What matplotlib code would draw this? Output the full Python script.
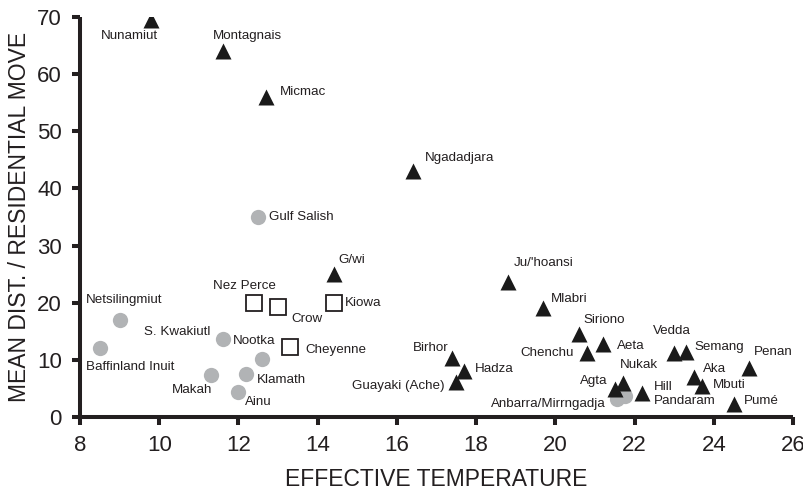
import matplotlib.pyplot as plt

plt.rcParams['font.family'] = ['Liberation Sans', 'DejaVu Sans']

# mobile foragers (triangles)
tri_names = ['Nunamiut', 'Montagnais', 'Micmac', 'Ngadadjara', 'G/wi', "Ju/'hoansi",
             'Mlabri', 'Siriono', 'Aeta', 'Chenchu', 'Vedda', 'Semang', 'Penan',
             'Birhor', 'Hadza', 'Guayaki (Ache)', 'Agta', 'Nukak', 'Hill\nPandaram',
             'Aka', 'Mbuti', 'Pumé']
tri_x = [9.8, 11.6, 12.7, 16.4, 14.4, 18.8, 19.7, 20.6, 21.2, 20.8, 23.0, 23.3, 24.9,
         17.4, 17.7, 17.5, 21.5, 21.7, 22.2, 23.5, 23.7, 24.5]
tri_y = [69.5, 64.0, 56.0, 43.0, 25.0, 23.7, 19.0, 14.5, 12.8, 11.2, 11.2, 11.3, 8.6,
         10.4, 8.0, 6.1, 4.9, 5.9, 4.2, 7.0, 5.4, 2.3]

# sedentary / complex (grey circles)
circ_names = ['Gulf Salish', 'Netsilingmiut', 'Baffinland Inuit', 'S. Kwakiutl', 'Nootka',
              'Klamath', 'Makah', 'Ainu', 'Anbarra/Mirrngadja', '']
circ_x = [12.5, 9.0, 8.5, 11.6, 12.6, 12.2, 11.3, 12.0, 21.55, 21.75]
circ_y = [35.0, 16.9, 12.1, 13.7, 10.1, 7.6, 7.3, 4.4, 3.2, 3.6]

# equestrian (open squares)
sq_names = ['Nez Perce', 'Crow', 'Kiowa', 'Cheyenne']
sq_x = [12.4, 13.0, 14.4, 13.3]
sq_y = [20.0, 19.3, 20.0, 12.2]

# label offsets in pixels (dx, dy, ha)
tri_off = [(-22, -16, 'center'), (25, 15, 'center'), (14, 5, 'left'), (12, 13, 'left'),
           (5, 14, 'left'), (6, 19, 'left'), (7, 9, 'left'), (4, 14, 'left'),
           (14, -2, 'left'), (-13, 0, 'right'), (-2, 22, 'center'), (8, 5, 'left'),
           (4, 16, 'left'), (-4, 10, 'right'), (11, 2, 'left'), (-12, -4, 'right'),
           (-7, 8, 'right'), (16, 18, 'center'), (11, -1, 'left'), (9, 8, 'left'),
           (11, 1, 'left'), (10, 3, 'left')]
circ_off = [(11, 0, 'left'), (-34, 20, 'left'), (-14, -19, 'left'), (-12, 7, 'right'),
            (-29, 18, 'left'), (11, -6, 'left'), (2, -15, 'right'), (7, -10, 'left'),
            (-11, -5, 'right'), (0, 0, 'left')]
sq_off = [(-10, 17, 'center'), (13, -12, 'left'), (11, 0, 'left'), (15, -3, 'left')]

fig = plt.figure(figsize=(8.04, 4.9), dpi=100)
ax = fig.add_axes([0.0995, 0.149, 0.8868, 0.8163])

ax.plot(circ_x, circ_y, 'o', ms=11, color='#b1b3b5', mec='none', zorder=2)
ax.plot(sq_x, sq_y, 's', ms=11, mfc='white', mec='#231f20', mew=1.3, zorder=3)
ax.plot(tri_x, tri_y, '^', ms=12, color='#1a1a1a', mec='none', zorder=4)

k = 0.72
for names, xs, ys, offs in [(tri_names, tri_x, tri_y, tri_off),
                            (circ_names, circ_x, circ_y, circ_off),
                            (sq_names, sq_x, sq_y, sq_off)]:
    for n, x, y, (dx, dy, ha) in zip(names, xs, ys, offs):
        if n == '':
            continue
        ax.annotate(n, (x, y), xytext=(dx * k, dy * k), textcoords='offset points',
                    ha=ha, va='center', fontsize=9.6, color='#231f20', linespacing=1.15)

ax.set_xlim(8, 26)
ax.set_ylim(0, 70)
ax.set_xticks(range(8, 27, 2))
ax.set_yticks(range(0, 71, 10))
for s in ['top', 'right']:
    ax.spines[s].set_visible(False)
for s in ['left', 'bottom']:
    ax.spines[s].set_linewidth(2.9)
    ax.spines[s].set_color('#231f20')
    ax.spines[s].set_capstyle('butt')
ax.tick_params(width=2.9, length=5.5, labelsize=16, color='#231f20', labelcolor='#231f20', pad=7.5)
ax.set_xlabel('EFFECTIVE TEMPERATURE', fontsize=16.5, color='#231f20', labelpad=8.5)
ax.set_ylabel('MEAN DIST. / RESIDENTIAL MOVE', fontsize=16.5, color='#231f20', labelpad=4.5)
for sp in ax.spines.values():
    sp.set_clip_on(False)

fig.savefig('out.png', dpi=100)
